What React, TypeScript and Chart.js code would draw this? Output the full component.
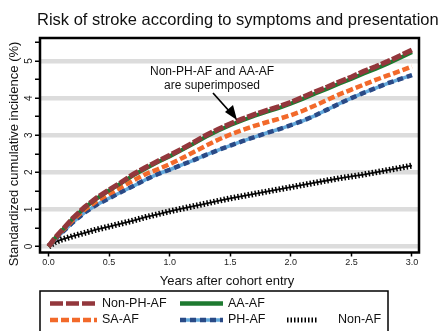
import React, { useEffect, useRef } from 'react';
import { Chart, registerables } from 'chart.js';

Chart.register(...registerables);

// ---------- data ----------
const years = [0, 0.05, 0.1, 0.2, 0.3, 0.4, 0.5, 0.6, 0.7, 0.8, 0.9, 1.0, 1.1, 1.2, 1.3, 1.4, 1.5, 1.6, 1.7, 1.8, 1.9, 2.0, 2.1, 2.2, 2.3, 2.4, 2.5, 2.6, 2.7, 2.8, 2.9, 3.0];

const nonPhAf = [0, 0.22, 0.4, 0.76, 1.07, 1.32, 1.53, 1.73, 1.95, 2.13, 2.3, 2.46, 2.63, 2.81, 3.0, 3.16, 3.31, 3.44, 3.56, 3.67, 3.77, 3.89, 4.03, 4.17, 4.3, 4.44, 4.57, 4.72, 4.85, 4.99, 5.14, 5.3];
const aaAf = [0, 0.21, 0.39, 0.75, 1.05, 1.3, 1.51, 1.71, 1.92, 2.1, 2.27, 2.43, 2.6, 2.78, 2.96, 3.12, 3.27, 3.4, 3.52, 3.63, 3.73, 3.85, 3.98, 4.12, 4.25, 4.39, 4.52, 4.66, 4.79, 4.93, 5.08, 5.24];
const saAf = [0, 0.2, 0.38, 0.71, 1.0, 1.23, 1.42, 1.6, 1.78, 1.95, 2.08, 2.22, 2.38, 2.55, 2.72, 2.88, 3.02, 3.14, 3.25, 3.35, 3.44, 3.54, 3.66, 3.8, 3.95, 4.1, 4.23, 4.36, 4.49, 4.61, 4.73, 4.85];
const phAf = [0, 0.18, 0.34, 0.65, 0.92, 1.13, 1.3, 1.47, 1.63, 1.8, 1.95, 2.07, 2.2, 2.33, 2.47, 2.6, 2.72, 2.84, 2.95, 3.06, 3.16, 3.27, 3.39, 3.53, 3.69, 3.85, 4.0, 4.14, 4.27, 4.4, 4.51, 4.62];
const nonAf = [0, 0.11, 0.18, 0.28, 0.37, 0.46, 0.54, 0.62, 0.7, 0.79, 0.87, 0.95, 1.02, 1.09, 1.16, 1.23, 1.3, 1.36, 1.42, 1.48, 1.54, 1.6, 1.66, 1.72, 1.78, 1.84, 1.89, 1.94, 2.0, 2.06, 2.12, 2.18];

const yTickLabels = [0, 1, 2, 3, 4, 5];
const titleText = 'Risk of stroke according to symptoms and presentation';
const yTitle = 'Standardized cumulative incidence (%)';
const xTitle = 'Years after cohort entry';
const noteLines = ['Non-PH-AF and AA-AF', 'are superimposed'];
const legendNames = ['Non-PH-AF', 'AA-AF', 'SA-AF', 'PH-AF', 'Non-AF'];

const FONT = '"Liberation Sans", Arial, Helvetica, sans-serif';
const C_BROWN = '#93373c';
const C_GREEN = '#1e7a30';
const C_ORANGE = '#f2692a';
const C_NAVY = '#2a4a86';
const C_LIGHTBLUE = '#63a9dc';

const pts = (vals: number[]) => years.map((x, i) => ({ x, y: vals[i] }));

const overlay = {
  id: 'overlay',
  afterDraw(chart: any) {
    const { ctx, chartArea: a, scales } = chart;
    ctx.save();
    // frame
    ctx.strokeStyle = '#000';
    ctx.lineWidth = 2.5;
    ctx.strokeRect(a.left, a.top, a.right - a.left, a.bottom - a.top);

    // title
    ctx.fillStyle = '#111';
    ctx.textAlign = 'left';
    ctx.textBaseline = 'middle';
    ctx.font = `16.5px ${FONT}`;
    ctx.fillText(titleText, 37, 20);

    // y tick labels (rotated)
    const ys = scales.y;
    ctx.font = `10px ${FONT}`;
    ctx.fillStyle = '#222';
    ctx.textAlign = 'center';
    for (const v of yTickLabels) {
      const py = ys.getPixelForValue(v);
      ctx.save();
      ctx.translate(29, py);
      ctx.rotate(-Math.PI / 2);
      ctx.fillText(String(v), 0, 0);
      ctx.restore();
    }

    // y title
    ctx.font = `13px ${FONT}`;
    ctx.fillStyle = '#111';
    ctx.save();
    ctx.translate(14, 154);
    ctx.rotate(-Math.PI / 2);
    ctx.fillText(yTitle, 0, 0);
    ctx.restore();

    // x title
    ctx.fillText(xTitle, 227, 281);

    // annotation
    ctx.font = `12px ${FONT}`;
    ctx.fillText(noteLines[0], 212, 72);
    ctx.fillText(noteLines[1], 212, 86);
    // arrow
    ctx.strokeStyle = '#000';
    ctx.lineWidth = 1.7;
    ctx.beginPath();
    ctx.moveTo(213, 93);
    ctx.lineTo(230, 112);
    ctx.stroke();
    ctx.fillStyle = '#000';
    ctx.beginPath();
    ctx.moveTo(237, 120);
    ctx.lineTo(225, 112);
    ctx.lineTo(233, 105);
    ctx.closePath();
    ctx.fill();

    // legend box
    ctx.strokeStyle = '#000';
    ctx.lineWidth = 1.5;
    ctx.strokeRect(40, 291, 348, 60);
    ctx.font = `12.5px ${FONT}`;
    ctx.fillStyle = '#111';
    ctx.textAlign = 'left';
    const r1 = 303.5, r2 = 320;
    const sample = (x1: number, x2: number, y: number, color: string, w: number, dash: number[]) => {
      ctx.save();
      ctx.strokeStyle = color;
      ctx.lineWidth = w;
      ctx.setLineDash(dash);
      ctx.lineCap = 'butt';
      ctx.beginPath();
      ctx.moveTo(x1, y);
      ctx.lineTo(x2, y);
      ctx.stroke();
      ctx.restore();
    };
    sample(50, 97, r1, C_BROWN, 4.5, [13, 3]);
    ctx.fillText(legendNames[0], 102, r1);
    sample(180, 223, r1, C_GREEN, 4.5, []);
    ctx.fillText(legendNames[1], 228, r1);
    sample(50, 97, r2, C_ORANGE, 4.5, [8, 3]);
    ctx.fillText(legendNames[2], 102, r2);
    sample(180, 223, r2, C_LIGHTBLUE, 3.5, []);
    sample(180, 223, r2, C_NAVY, 4.5, [6, 4]);
    ctx.fillText(legendNames[3], 228, r2);
    sample(287, 318, r2, '#000', 5, [1.5, 2]);
    ctx.fillText(legendNames[4], 338, r2);

    ctx.restore();
  },
};

export default function App() {
  const ref = useRef<HTMLCanvasElement | null>(null);

  useEffect(() => {
    document.body.style.margin = '0';
    const canvas = ref.current;
    if (!canvas) return;
    const chart = new Chart(canvas, {
      type: 'line',
      data: {
        datasets: [
          { label: legendNames[0], data: pts(nonPhAf), borderColor: C_BROWN, borderWidth: 5, borderDash: [10, 2], order: 1 },
          { label: legendNames[1], data: pts(aaAf), borderColor: C_GREEN, borderWidth: 4, order: 2 },
          { label: legendNames[2], data: pts(saAf), borderColor: C_ORANGE, borderWidth: 4.5, borderDash: [7, 3], order: 3 },
          { label: legendNames[3], data: pts(phAf), borderColor: C_NAVY, borderWidth: 4.5, borderDash: [6, 4], order: 4 },
          { label: legendNames[3] + ' base', data: pts(phAf), borderColor: C_LIGHTBLUE, borderWidth: 3.5, order: 5 },
          { label: legendNames[4], data: pts(nonAf), borderColor: '#000', borderWidth: 6, borderDash: [1.5, 2], order: 6 },
          { label: legendNames[4] + ' base', data: pts(nonAf), borderColor: '#111', borderWidth: 1.8, order: 7 },
        ],
      },
      options: {
        responsive: false,
        animation: false,
        layout: { padding: { top: 38, right: 22, left: 0, bottom: 0 } },
        elements: { point: { radius: 0 }, line: { tension: 0, fill: false } },
        plugins: { legend: { display: false }, title: { display: false }, tooltip: { enabled: false } },
        scales: {
          x: {
            type: 'linear',
            min: -0.07,
            max: 3.058,
            ticks: {
              stepSize: 0.5,
              includeBounds: false,
              maxRotation: 0,
              padding: 1,
              color: '#222',
              font: { size: 9, family: FONT },
              callback: (v: any) => Number(v).toFixed(1),
            },
            grid: { drawOnChartArea: false, drawTicks: true, tickLength: 4, tickColor: '#000', tickWidth: 1.5 },
            border: { display: false },
            afterFit: (s: any) => { s.height = 331 - 252.5; },
          },
          y: {
            type: 'linear',
            min: -0.16,
            max: 5.62,
            ticks: { stepSize: 0.5, includeBounds: false, display: false },
            grid: {
              color: (c: any) => (c.tick && Number.isInteger(c.tick.value) ? '#dcdcdc' : 'rgba(0,0,0,0)'),
              lineWidth: 4.5,
              drawTicks: true,
              tickLength: 5,
              tickColor: '#000',
              tickWidth: 1.5,
            },
            border: { display: false },
            afterFit: (s: any) => { s.width = 40; },
          },
        },
      },
      plugins: [overlay],
    });
    return () => chart.destroy();
  }, []);

  return (
    <div style={{ position: 'absolute', left: 0, top: 0, width: 441, height: 331, background: '#fff' }}>
      <canvas ref={ref} width={441} height={331} style={{ display: 'block' }} />
    </div>
  );
}
